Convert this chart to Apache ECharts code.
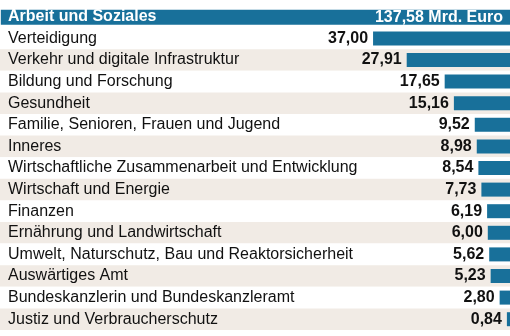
<!DOCTYPE html>
<html><head><meta charset="utf-8">
<script src="https://cdn.jsdelivr.net/npm/echarts@6/dist/echarts.min.js"></script>
<style>html,body{margin:0;padding:0;background:#fff}#c{width:510px;height:336px}</style>
</head><body><div id="c"></div>
<script>
const headerCategory = 'Arbeit und Soziales';
const headerValue = 137.58;
const headerUnit = 'Mrd. Euro';
const categories = [
  'Verteidigung',
  'Verkehr und digitale Infrastruktur',
  'Bildung und Forschung',
  'Gesundheit',
  'Familie, Senioren, Frauen und Jugend',
  'Inneres',
  'Wirtschaftliche Zusammenarbeit und Entwicklung',
  'Wirtschaft und Energie',
  'Finanzen',
  'Ernährung und Landwirtschaft',
  'Umwelt, Naturschutz, Bau und Reaktorsicherheit',
  'Auswärtiges Amt',
  'Bundeskanzlerin und Bundeskanzleramt',
  'Justiz und Verbraucherschutz'
];
const values = [37.00, 27.91, 17.65, 15.16, 9.52, 8.98, 8.54, 7.73, 6.19, 6.00, 5.62, 5.23, 2.80, 0.84];

const allCats = [headerCategory].concat(categories);
const fmt = v => v.toFixed(2).replace('.', ',');
const BLUE = '#18709a';
const BEIGE = '#f1ebe5';
const font = '"Liberation Sans", Arial, Helvetica, sans-serif';

const chart = echarts.init(document.getElementById('c'), null, {renderer: 'canvas'});
chart.setOption({
  animation: false,
  backgroundColor: '#fff',
  grid: {left: 0, right: 0, top: 6, bottom: 6, containLabel: false},
  xAxis: {type: 'value', inverse: true, min: 0, max: 137.8, show: false},
  yAxis: [
    {
      type: 'category', inverse: true, data: allCats, position: 'left',
      axisLine: {show: false, onZero: false}, axisTick: {show: false, interval: 0},
      axisLabel: {
        inside: true, margin: 8, interval: 0, fontFamily: font, fontSize: 16, color: '#111',
        formatter: (v, i) => i === 0 ? '{h|' + v + '}' : v,
        rich: {h: {color: '#fff', fontWeight: 'bold', fontSize: 16, fontFamily: font}}
      },
      splitArea: {show: false},
      z: 5
    },
    {
      type: 'category', inverse: true, data: allCats, position: 'left',
      axisLine: {show: false, onZero: false}, axisTick: {show: false, interval: 0},
      axisLabel: {show: false},
      splitArea: {show: true, interval: 0, areaStyle: {color: allCats.map((c, i) => (i > 0 && i % 2 === 0) ? BEIGE : '#fff')}},
      z: 0
    }
  ],
  series: [
    {
      type: 'bar', barWidth: 15, barGap: '-100%',
      data: allCats.map((c, i) => i === 0 ? headerValue : '-'),
      itemStyle: {color: BLUE},
      label: {show: true, position: 'insideRight', distance: 7, color: '#fff', fontWeight: 'bold',
        fontSize: 16, fontFamily: font, formatter: p => fmt(p.value) + ' ' + headerUnit},
      z: 2
    },
    {
      type: 'bar', barWidth: 14, barGap: '-100%',
      data: ['-'].concat(values),
      itemStyle: {color: BLUE},
      label: {show: true, position: 'left', distance: 5, color: '#111', fontWeight: 'bold',
        fontSize: 16, fontFamily: font, formatter: p => fmt(p.value)},
      z: 2
    }
  ]
});
</script></body></html>
